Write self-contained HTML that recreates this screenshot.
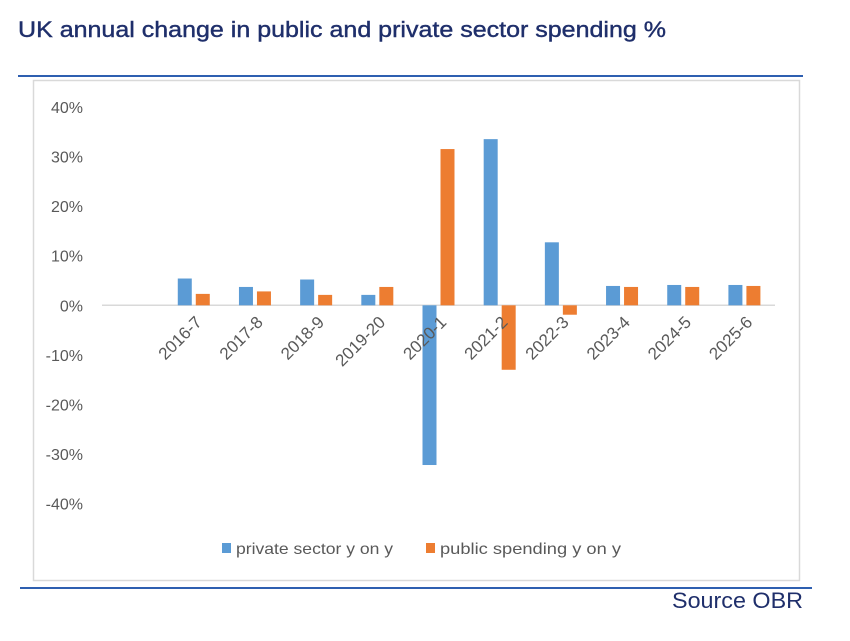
<!DOCTYPE html>
<html><head><meta charset="utf-8"><style>
body{margin:0;background:#fff;width:850px;height:636px;overflow:hidden}
svg text{font-family:"Liberation Sans",sans-serif}
</style></head><body>
<svg width="850" height="636">
<text x="18" y="37" font-size="22" fill="#1f2f6b" stroke="#1f2f6b" stroke-width="0.4" textLength="648" lengthAdjust="spacingAndGlyphs">UK annual change in public and private sector spending %</text>
<line x1="18" y1="76" x2="803" y2="76" stroke="#2e5fb0" stroke-width="2"/>
<rect x="33.5" y="80.5" width="766" height="500" fill="none" stroke="#d9d9d9" stroke-width="1.5"/>
<line x1="20" y1="588" x2="812" y2="588" stroke="#2e5fb0" stroke-width="2"/>
<text x="803" y="608" font-size="22" fill="#1f2f6b" text-anchor="end" textLength="131" lengthAdjust="spacingAndGlyphs">Source OBR</text>
<g id="plot"></g>
<g>
<rect x="222" y="543" width="9" height="10" fill="#5b9bd5"/>
<text x="236" y="554" font-size="16" fill="#595959" textLength="157" lengthAdjust="spacingAndGlyphs">private sector y on y</text>
<rect x="426" y="543" width="9" height="10" fill="#ed7d31"/>
<text x="440" y="554" font-size="16" fill="#595959" textLength="181" lengthAdjust="spacingAndGlyphs">public spending  y on y</text>
</g>
</svg>
<script>
const categories=["","2016-7","2017-8","2018-9","2019-20","2020-1","2021-2","2022-3","2023-4","2024-5","2025-6"];
const privateVals=[null,5.4,3.7,5.2,2.1,-32.2,33.5,12.7,3.9,4.1,4.1];
const publicVals=[null,2.3,2.8,2.1,3.7,31.5,-13.0,-1.9,3.7,3.7,3.9];
const yTicks=[40,30,20,10,0,-10,-20,-30,-40];
const NS="http://www.w3.org/2000/svg";
const g=document.getElementById("plot");
const x0=102,x1=775,yZero=305.3,pxPer=4.96;
const band=(x1-x0)/categories.length;
const y=v=>yZero-v*pxPer;
const cx=i=>x0+band*(i+0.5);
function mk(t,a){const e=document.createElementNS(NS,t);for(const k in a)e.setAttribute(k,a[k]);g.appendChild(e);return e;}
yTicks.forEach(t=>{
 const e=mk("text",{x:83,y:y(t)+6,"font-size":16,fill:"#595959","text-anchor":"end"});
 e.textContent=t+"%";
 
 
});
const ax=mk("line",{x1:x0,y1:yZero,x2:x1,y2:yZero,stroke:"#d9d9d9","stroke-width":1.5});


const bw=14,gap=4;
categories.forEach((c,i)=>{
 if(privateVals[i]!=null){
  const v=privateVals[i];
  const r=mk("rect",{x:cx(i)-gap/2-bw,y:Math.min(y(v),yZero),width:bw,height:Math.abs(y(v)-yZero),fill:"#5b9bd5"});
  
  
 }
 if(publicVals[i]!=null){
  const v=publicVals[i];
  const r=mk("rect",{x:cx(i)+gap/2,y:Math.min(y(v),yZero),width:bw,height:Math.abs(y(v)-yZero),fill:"#ed7d31"});
  
  
 }
 if(c){
  const tx=cx(i)+9,ty=yZero+18;
  const e=mk("text",{x:tx,y:ty,"font-size":17,fill:"#595959","text-anchor":"end",transform:`rotate(-45 ${tx} ${ty})`});
  e.textContent=c;
  
  
 }
});
</script>
</body></html>
